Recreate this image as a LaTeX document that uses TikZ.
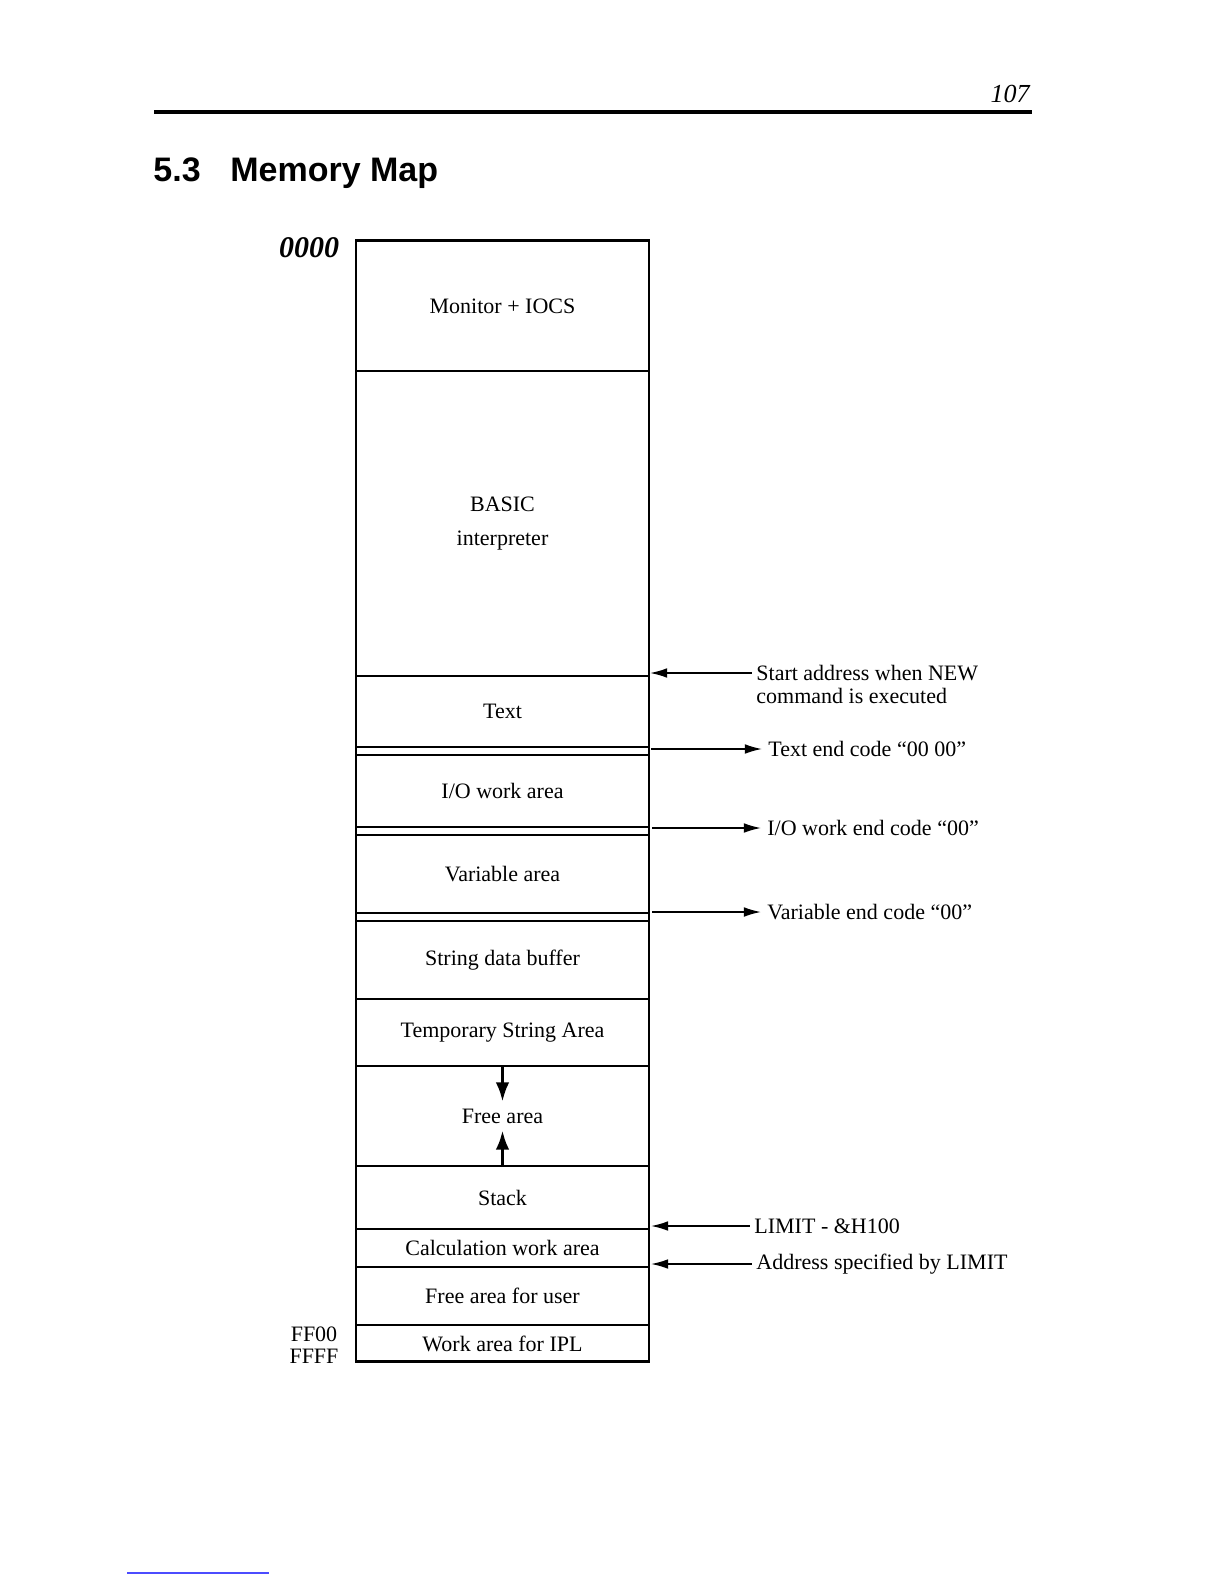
\documentclass[tikz,border=0pt]{standalone}
\usepackage{fontspec}
\setmainfont{Liberation Serif}
\setsansfont{Liberation Sans}
\usetikzlibrary{positioning,arrows.meta}

\tikzset{
  region/.style={draw,line width=1pt,minimum width=146.5pt,inner sep=0pt,anchor=north,align=center},
  note/.style={anchor=west,inner sep=0pt},
  bigtip/.style={-{Latex[length=3.4mm,width=2.4mm]},line width=1.6pt},
}

\begin{document}
\begin{tikzpicture}[x=0.5pt,y=-0.5pt,font=\fontsize{11}{13}\selectfont,>={Latex[length=3mm,width=1.7mm]}]
  \useasboundingbox (0,0) rectangle (1224,1584);
  % page head
  \draw[line width=2pt] (154,112) -- (1032,112);
  \node[font=\fontsize{13}{15}\selectfont\itshape,anchor=south east,inner sep=0pt] (pageno) at (1030,103) {107};
  \node[font=\sffamily\bfseries\fontsize{17}{20}\selectfont,anchor=base west,inner sep=0pt] (secno) at (153,181) {5.3};
  \node[font=\sffamily\bfseries\fontsize{17}{20}\selectfont,anchor=base west,inner sep=0pt] (sectitle) at (230,181) {Memory Map};
  % memory column
  \draw[line width=1pt] (356,240) rectangle (649,1361);
  \foreach \nm/\ya/\yb/\l in {mon/240/370/{Monitor + IOCS}, basic/370/675/{BASIC\\[4pt]interpreter},
                              text/675/746/Text, io/754/826/{I/O work area}, var/834/912/{Variable area},
                              str/920/998/{String data buffer}, tmp/998/1065/{Temporary String Area},
                              free/1065/1165/{}, stack/1165/1228/Stack, calc/1228/1266/{Calculation work area},
                              user/1266/1324/{Free area for user}, ipl/1324/1361/{Work area for IPL}} {
    \node[region,minimum height={(\yb-\ya)*0.5pt}] (\nm) at (502.5,\ya) {\l};
  }
  \node (freelbl) at (free) {Free area};
  \draw[bigtip] (free.north) -- (freelbl.north);
  \draw[bigtip] (free.south) -- (freelbl.south);
  % addresses
  \node[font=\fontsize{15}{17}\selectfont\bfseries\itshape] (zero) at (309,248) {0000};
  \node (ff00) at (314,1334) {FF00};
  \node (ffff) at (314,1356) {FFFF};
  % pointers on the right
  \coordinate (newpt) at (650,673);
  \node[note] (newlbl) at (756,673) {Start address when NEW};
  \node[note,below=3.5pt of newlbl.south west,anchor=north west] (newlbl2) {command is executed};
  \draw[<-,line width=0.8pt,shorten >=2pt] (newpt) -- (newlbl.west);
  \coordinate (txtend) at (651,749);
  \node[note] (txtendlbl) at (768,749) {Text end code ``00 00''};
  \draw[->,line width=0.8pt,shorten >=3pt] (txtend) -- (txtendlbl.west);
  \coordinate (ioend) at (652,828);
  \node[note] (ioendlbl) at (767,828) {I/O work end code ``00''};
  \draw[->,line width=0.8pt,shorten >=3pt] (ioend) -- (ioendlbl.west);
  \coordinate (varend) at (652,912);
  \node[note] (varendlbl) at (767,912) {Variable end code ``00''};
  \draw[->,line width=0.8pt,shorten >=3pt] (varend) -- (varendlbl.west);
  \coordinate (limpt) at (651,1226);
  \node[note] (limlbl) at (754,1226) {LIMIT - \&H100};
  \draw[<-,line width=0.8pt,shorten >=2pt] (limpt) -- (limlbl.west);
  \coordinate (addrpt) at (651,1264);
  \node[note] (addrlbl) at (756,1264) {Address specified by LIMIT};
  \draw[<-,line width=0.8pt,shorten >=2pt] (addrpt) -- (addrlbl.west);
  \draw[blue!70,line width=0.8pt] (127,1573) -- (269,1573);
\end{tikzpicture}
\end{document}
